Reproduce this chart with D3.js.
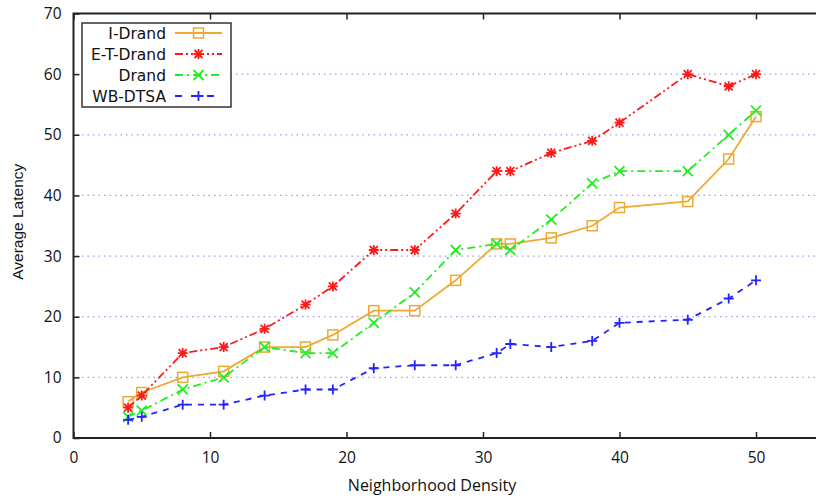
<!DOCTYPE html>
<html lang="en">
  <head>
    <meta charset="UTF-8" />
    <title>Average Latency</title>
    <style>

      body {
        margin: 0;
        background: #fff;
      }

      text {
        font-family: "DejaVu Sans", sans-serif;
        font-size: 15.5px;
        fill: #111;
      }

      .grid-line {
        stroke: #9c9cf2;
        stroke-width: 1.2px;
        stroke-dasharray: 1.5,4;
      }

      .frame {
        fill: none;
        stroke: #222;
        stroke-width: 2px;
      }

      .tick-mark {
        stroke: #222;
        stroke-width: 1.5px;
      }

      .series-line {
        fill: none;
        stroke-width: 1.8px;
      }

      .legend-box {
        fill: #fff;
        stroke: #333;
        stroke-width: 1.5px;
      }

    </style>
  </head>

  <body>

    <script src="https://cdn.jsdelivr.net/npm/d3@7/dist/d3.min.js"></script>
    <script>

      // Data...

      var density = [4, 5, 8, 11, 14, 17, 19, 22, 25, 28, 31, 32, 35, 38, 40, 45, 48, 50];

      var iDrand  = [6, 7.5, 10, 11, 15, 15, 17, 21, 21, 26, 32, 32, 33, 35, 38, 39, 46, 53];
      var etDrand = [5, 7, 14, 15, 18, 22, 25, 31, 31, 37, 44, 44, 47, 49, 52, 60, 58, 60];
      var drand   = [3.5, 4.5, 8, 10, 15, 14, 14, 19, 24, 31, 32, 31, 36, 42, 44, 44, 50, 54];
      var wbDtsa  = [3, 3.5, 5.5, 5.5, 7, 8, 8, 11.5, 12, 12, 14, 15.5, 15, 16, 19, 19.5, 23, 26];

      var xTicks = [0, 10, 20, 30, 40, 50];
      var yTicks = [0, 10, 20, 30, 40, 50, 60, 70];

      var series = [
        { name: "I-Drand",   values: iDrand,  color: "#efa832", dash: null,          marker: "square" },
        { name: "E-T-Drand", values: etDrand, color: "#ff1a1a", dash: "8,3,2,3,2,3", marker: "star" },
        { name: "Drand",     values: drand,   color: "#22ee22", dash: "8,4,2,4",     marker: "cross" },
        { name: "WB-DTSA",   values: wbDtsa,  color: "#2424ff", dash: "6,6",         marker: "plus" }
      ];


      // SVG properties...

      var w = 816,
          h = 498;

      // Plot area. The right side runs past the window, like the original.
      var margin = {
        top: 13.5,
        left: 73.5,
        bottom: 60
      };

      var svg = d3.select("body").append("svg")
        .attr("width", w)
        .attr("height", h);


      // Scales...

      var xScale = d3.scaleLinear()
        .domain([0, 55])
        .range([margin.left, margin.left + 55 * 13.65]);

      var yScale = d3.scaleLinear()
        .domain([0, 70])
        .range([h - margin.bottom, margin.top]);

      var x0 = xScale.range()[0],
          x1 = xScale.range()[1],
          y0 = yScale.range()[0],
          y1 = yScale.range()[1];


      // Grid lines (dotted, skip the axis and the top border)
      svg.append("g")
        .selectAll("line")
        .data(yTicks.filter(function(d) { return d > 0 && d < 70; }))
        .enter()
        .append("line")
        .attr("class", "grid-line")
        .attr("x1", x0 + 3)
        .attr("x2", x1)
        .attr("y1", function(d) { return yScale(d); })
        .attr("y2", function(d) { return yScale(d); });


      // Axes...

      // Ticks point inwards and are mirrored on the top border
      var tickLen = 6;

      var xAxis = d3.axisBottom(xScale)
        .tickValues(xTicks)
        .tickSize(-tickLen)
        .tickPadding(14);

      var yAxis = d3.axisLeft(yScale)
        .tickValues(yTicks)
        .tickSize(-tickLen)
        .tickPadding(12);

      svg.append("g")
        .attr("class", "xaxis")
        .attr("transform", "translate(0," + y0 + ")")
        .call(xAxis);

      svg.append("g")
        .attr("class", "yaxis")
        .attr("transform", "translate(" + x0 + ",0)")
        .call(yAxis);

      svg.append("g")
        .attr("transform", "translate(0," + y1 + ")")
        .call(d3.axisTop(xScale).tickValues(xTicks).tickSize(-tickLen).tickFormat(""));

      svg.selectAll(".domain").remove();
      svg.selectAll(".tick line").attr("class", "tick-mark");
      svg.selectAll(".tick text")
        .style("font-family", "'Open Sans', sans-serif")
        .style("font-size", "15.5px")
        .attr("fill", "#111");

      // Border: left, bottom, top (right side is off the page)
      svg.append("path")
        .attr("class", "frame")
        .attr("d", "M" + x1 + "," + y1 + "H" + x0 + "V" + y0 + "H" + x1);


      // Axis labels
      svg.append("text")
        .attr("x", 432)
        .attr("y", 491)
        .attr("text-anchor", "middle")
        .style("font-family", "'Open Sans', sans-serif")
        .style("font-size", "16px")
        .text("Neighborhood Density");

      svg.append("text")
        .attr("transform", "translate(23," + ((y0 + y1) / 2 - 4) + ") rotate(-90)")
        .attr("text-anchor", "middle")
        .style("font-family", "'Liberation Sans', Arial, sans-serif")
        .style("font-size", "15.5px")
        .text("Average Latency");


      // Markers...

      function drawMarker(g, type, color) {
        var s = 5;
        if (type == "square") {
          g.append("rect")
            .attr("x", -s).attr("y", -s)
            .attr("width", 2 * s).attr("height", 2 * s)
            .attr("fill", "none")
            .attr("stroke", color)
            .attr("stroke-width", 1.5);
        } else {
          var path = "";
          if (type == "plus" || type == "star") {
            path += "M" + (-s) + ",0H" + s + "M0," + (-s) + "V" + s;
          }
          if (type == "cross" || type == "star") {
            var d = type == "star" ? s * 0.8 : s;
            path += "M" + (-d) + "," + (-d) + "L" + d + "," + d +
                    "M" + (-d) + "," + d + "L" + d + "," + (-d);
          }
          g.append("path")
            .attr("d", path)
            .attr("fill", "none")
            .attr("stroke", color)
            .attr("stroke-width", 1.8);
        }
      }


      // Lines...

      var line = d3.line()
        .x(function(d) { return xScale(d[0]); })
        .y(function(d) { return yScale(d[1]); });

      // Legend box is drawn after the grid, so it covers it
      var legend = svg.append("g");

      legend.append("rect")
        .attr("class", "legend-box")
        .attr("x", 82)
        .attr("y", 23)
        .attr("width", 149)
        .attr("height", 84);

      series.forEach(function(s, i) {

        var pts = density.map(function(x, j) { return [x, s.values[j]]; });

        svg.append("path")
          .datum(pts)
          .attr("class", "series-line")
          .attr("stroke", s.color)
          .attr("stroke-dasharray", s.dash)
          .attr("d", line);

        svg.append("g")
          .selectAll("g")
          .data(pts)
          .enter()
          .append("g")
          .attr("transform", function(d) { return "translate(" + xScale(d[0]) + "," + yScale(d[1]) + ")"; })
          .each(function() { drawMarker(d3.select(this), s.marker, s.color); });

        // Legend entry
        var rowY = 33 + i * 21;

        legend.append("text")
          .attr("x", 166)
          .attr("y", rowY + 5.5)
          .attr("text-anchor", "end")
          .text(s.name);

        legend.append("line")
          .attr("x1", 175)
          .attr("x2", 222)
          .attr("y1", rowY)
          .attr("y2", rowY)
          .attr("stroke", s.color)
          .attr("stroke-width", 1.8)
          .attr("stroke-dasharray", s.dash ? (s.marker == "plus" ? "7,9" : s.dash) : null);

        drawMarker(legend.append("g").attr("transform", "translate(198.5," + rowY + ")"), s.marker, s.color);
      });

    </script>
  </body>
</html>
